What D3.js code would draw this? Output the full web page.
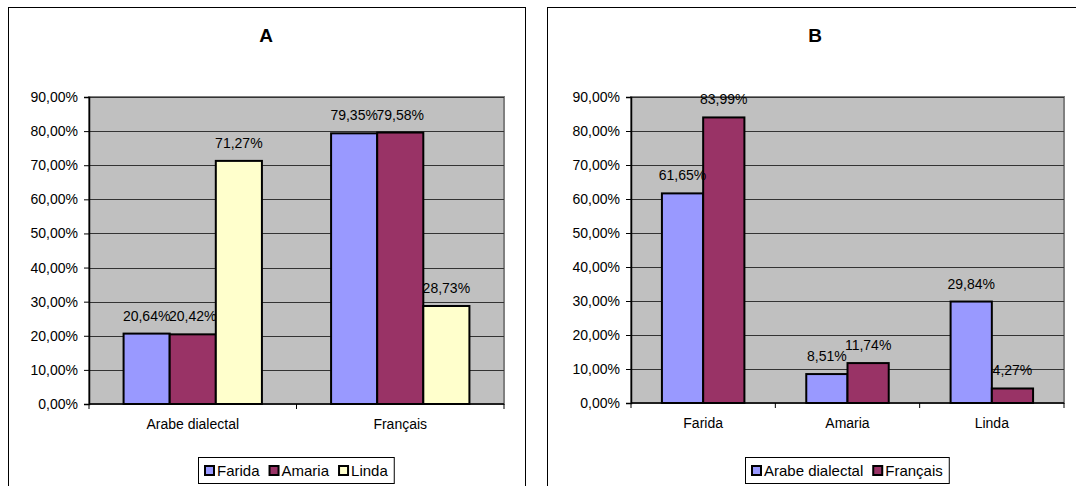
<!DOCTYPE html>
<html>
<head>
<meta charset="utf-8">
<script src="https://cdn.jsdelivr.net/npm/d3@7"></script>
<style>
  body { margin: 0; background: #fff; }
  svg { display: block; font-family: Arial, "Liberation Sans", sans-serif; }
</style>
</head>
<body>
<svg id="chart" width="1076" height="486"></svg>
<script>
// Chart A: languages x speakers
const categoriesA = ["Arabe dialectal", "Français"];
const seriesA = ["Farida", "Amaria", "Linda"];
const faridaA = [20.64, 79.35];
const amariaA = [20.42, 79.58];
const lindaA = [71.27, 28.73];

// Chart B: speakers x languages
const categoriesB = ["Farida", "Amaria", "Linda"];
const seriesB = ["Arabe dialectal", "Français"];
const arabeB = [61.65, 8.51, 29.84];
const francaisB = [83.99, 11.74, 4.27];

const yTicks = [0, 10, 20, 30, 40, 50, 60, 70, 80, 90];

const colorsA = ["#9999ff", "#993366", "#ffffcc"];
const colorsB = ["#9999ff", "#993366"];

const svg = d3.select("#chart");
svg.append("rect").attr("width", 1076).attr("height", 486).attr("fill", "#fff");

const fmtPct = v => v.toFixed(2).replace(".", ",") + "%";

function drawPanel(opts) {
  const { frame, plot, title, titleX, categories, series, values, colors } = opts;
  const g = svg.append("g");

  // outer frame
  g.append("rect")
    .attr("x", frame.x + 0.5).attr("y", frame.y + 0.5)
    .attr("width", frame.w).attr("height", frame.h)
    .attr("fill", "#fff").attr("stroke", "#000").attr("stroke-width", 1);

  g.append("text")
    .attr("x", titleX).attr("y", 42)
    .attr("text-anchor", "middle")
    .attr("font-size", 19).attr("font-weight", "bold")
    .text(title);

  const y = d3.scaleLinear().domain([0, 90]).range([plot.bottom, plot.top]);
  const x0 = d3.scaleBand()
    .domain(categories)
    .range([plot.left, plot.right])
    .paddingInner(1.5 / (series.length + 1.5))
    .paddingOuter(0.75 / (series.length + 1.5));
  const x1 = d3.scaleBand().domain(series).range([0, x0.bandwidth()]);

  // plot background
  g.append("rect")
    .attr("x", plot.left).attr("y", plot.top)
    .attr("width", plot.right - plot.left).attr("height", plot.bottom - plot.top)
    .attr("fill", "#c0c0c0").attr("stroke", "#808080").attr("stroke-width", 2);

  // gridlines
  g.append("g")
    .selectAll("line")
    .data(yTicks.filter(d => d > 0))
    .join("line")
    .attr("x1", plot.left).attr("x2", plot.right)
    .attr("y1", d => Math.round(y(d)) + 0.5).attr("y2", d => Math.round(y(d)) + 0.5)
    .attr("stroke", "#333").attr("stroke-width", 1);

  // bars
  const rows = series.map((s, i) => ({ key: s, color: colors[i], vals: values[i] }));
  const barG = g.append("g");
  rows.forEach(r => {
    barG.selectAll(null)
      .data(categories.map((c, j) => ({ c, v: r.vals[j] })))
      .join("rect")
      .attr("x", d => x0(d.c) + x1(r.key))
      .attr("y", d => y(d.v))
      .attr("width", x1.bandwidth())
      .attr("height", d => y(0) - y(d.v))
      .attr("fill", r.color)
      .attr("stroke", "#000").attr("stroke-width", 2);
  });

  // data labels
  rows.forEach(r => {
    g.append("g").selectAll("text")
      .data(categories.map((c, j) => ({ c, v: r.vals[j] })))
      .join("text")
      .attr("x", d => x0(d.c) + x1(r.key) + x1.bandwidth() / 2)
      .attr("y", d => y(d.v) - 13)
      .attr("text-anchor", "middle")
      .attr("font-size", 14).attr("fill", "#000")
      .text(d => fmtPct(d.v));
  });

  // y axis
  const yAxis = d3.axisLeft(y).tickValues(yTicks).tickSize(5).tickPadding(6)
    .tickFormat(d => fmtPct(d));
  g.append("g")
    .attr("transform", `translate(${plot.left},0)`)
    .call(yAxis)
    .call(a => a.selectAll("text").attr("font-size", 14).attr("fill", "#000").attr("font-family", null))
    .call(a => a.select(".domain").attr("stroke", "#000").attr("stroke-width", 1.5));

  // x axis: ticks at category boundaries
  const step = x0.step();
  const boundaries = d3.range(categories.length + 1).map(i => plot.left + i * step);
  const xg = g.append("g");
  xg.append("line")
    .attr("x1", plot.left).attr("x2", plot.right)
    .attr("y1", plot.bottom).attr("y2", plot.bottom)
    .attr("stroke", "#000").attr("stroke-width", 1.5);
  xg.selectAll(".tk")
    .data(boundaries)
    .join("line")
    .attr("x1", d => d).attr("x2", d => d)
    .attr("y1", plot.bottom).attr("y2", plot.bottom + 5)
    .attr("stroke", "#000");
  xg.selectAll("text")
    .data(categories)
    .join("text")
    .attr("x", d => x0(d) + x0.bandwidth() / 2)
    .attr("y", plot.bottom + 25)
    .attr("text-anchor", "middle")
    .attr("font-size", 14)
    .text(d => d);

  // legend
  const leg = g.append("g");
  const box = leg.append("rect")
    .attr("fill", "#fff").attr("stroke", "#000").attr("stroke-width", 1);
  let cx = 0;
  rows.forEach(r => {
    const it = leg.append("g").attr("transform", `translate(${cx},0)`);
    it.append("rect")
      .attr("x", 0).attr("y", -10).attr("width", 9).attr("height", 9)
      .attr("fill", r.color).attr("stroke", "#000").attr("stroke-width", 2);
    const t = it.append("text")
      .attr("x", 12).attr("y", 0)
      .attr("font-size", 15)
      .text(r.key);
    const w = t.node().getComputedTextLength();
    cx += 12 + w + 10;
  });
  const totalW = cx - 10;
  const center = (plot.left + plot.right) / 2;
  const lx = Math.round(center - totalW / 2);
  leg.attr("transform", `translate(${lx},476)`);
  box.attr("x", -6.5).attr("y", -18.5).attr("width", totalW + 13).attr("height", 26);
}

drawPanel({
  frame: { x: 8, y: 7, w: 517, h: 500 },
  plot: { left: 89, right: 504, top: 97, bottom: 404 },
  title: "A",
  titleX: 266,
  categories: categoriesA,
  series: seriesA,
  values: [faridaA, amariaA, lindaA],
  colors: colorsA
});

drawPanel({
  frame: { x: 547, y: 7, w: 540, h: 500 },
  plot: { left: 631, right: 1064, top: 97, bottom: 403 },
  title: "B",
  titleX: 815,
  categories: categoriesB,
  series: seriesB,
  values: [arabeB, francaisB],
  colors: colorsB
});
</script>
</body>
</html>
